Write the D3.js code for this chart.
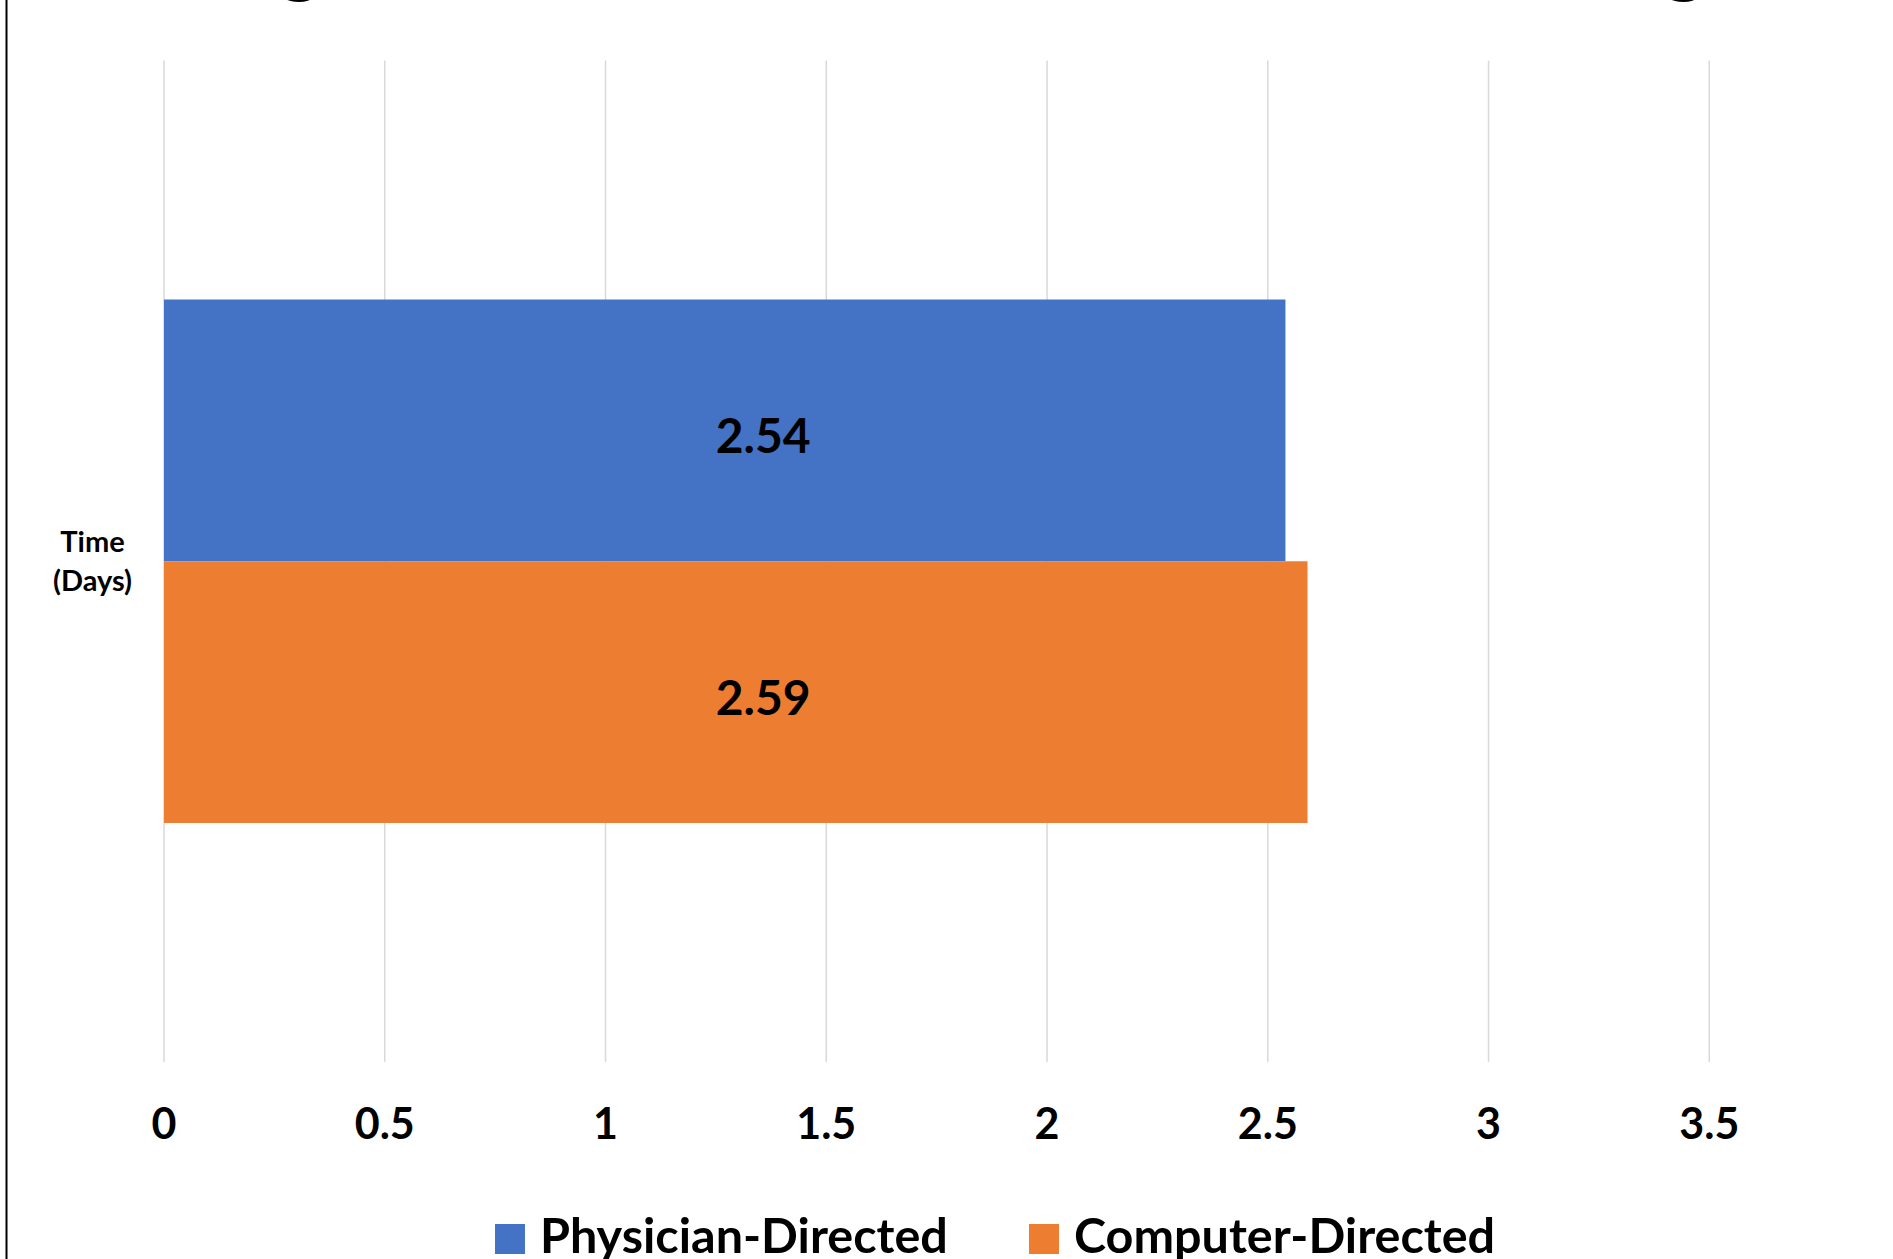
<!DOCTYPE html>
<html>
<head>
<meta charset="utf-8">
<script src="https://cdn.jsdelivr.net/npm/d3@7"></script>
<style>
  html, body { margin: 0; padding: 0; background: #ffffff; }
  svg { display: block; }
  text { font-family: Lato, "Open Sans", "Liberation Sans", sans-serif; font-weight: 700; fill: #000; }
</style>
</head>
<body>
<svg id="chart" width="1893" height="1259"></svg>
<script>
// Chart data
const titleText = "Length of Ventilator Weaning";
const categories = ["Time (Days)"];
const categoryLines = [["Time", "(Days)"]];
const seriesNames = ["Physician-Directed", "Computer-Directed"];
const seriesColors = ["#4472C4", "#ED7D31"];
const seriesValues = [[2.54], [2.59]];   // one value per category, per series
const tickValues = [0, 0.5, 1, 1.5, 2, 2.5, 3, 3.5];
const tickLabels = ["0", "0.5", "1", "1.5", "2", "2.5", "3", "3.5"];

const svg = d3.select("#chart");
const W = 1893, H = 1259;
const plot = { left: 164, right: 1709.3, top: 60.5, bottom: 1062 };

// Frame line along the left edge
svg.append("line")
  .attr("x1", 6.5).attr("x2", 6.5).attr("y1", 0).attr("y2", H)
  .attr("stroke", "#000").attr("stroke-width", 2);

// Title, set mostly above the visible area
const title = svg.append("text")
  .attr("font-size", 84)
  .attr("x", 0)
  .attr("y", -14)
  .text(titleText);
{
  const node = title.node();
  const i1 = titleText.indexOf("g"), i2 = titleText.lastIndexOf("g");
  const e1 = node.getExtentOfChar(i1), e2 = node.getExtentOfChar(i2);
  const c1 = e1.x + e1.width / 2, c2 = e2.x + e2.width / 2;
  const ls = (1386 - (c2 - c1)) / (i2 - i1);
  title.attr("letter-spacing", ls).attr("x", 300 - (c1 + ls * i1));
}

// Scales
const x = d3.scaleLinear().domain([0, 3.5]).range([plot.left, plot.right]);
const y0 = d3.scaleBand().domain(categories).range([plot.top, plot.bottom])
  .paddingInner(0).paddingOuter(0.4566);
const y1 = d3.scaleBand().domain(seriesNames).range([0, y0.bandwidth()]).padding(0);

// Vertical gridlines
svg.append("g").selectAll("line")
  .data(tickValues)
  .join("line")
  .attr("x1", d => x(d)).attr("x2", d => x(d))
  .attr("y1", plot.top).attr("y2", plot.bottom)
  .attr("stroke", "#D9D9D9").attr("stroke-width", 1.5);

// Bars
const barData = [];
categories.forEach((c, ci) => {
  seriesNames.forEach((s, si) => {
    barData.push({ cat: c, series: s, value: seriesValues[si][ci], color: seriesColors[si] });
  });
});

const bars = svg.append("g");
bars.selectAll("rect")
  .data(barData)
  .join("rect")
  .attr("x", x(0))
  .attr("y", d => y0(d.cat) + y1(d.series))
  .attr("width", d => x(d.value) - x(0))
  .attr("height", y1.bandwidth())
  .attr("fill", d => d.color);

// Value labels inside the bars
bars.selectAll("text")
  .data(barData)
  .join("text")
  .attr("x", x(1.357))
  .attr("y", d => y0(d.cat) + y1(d.series) + y1.bandwidth() / 2 + 4)
  .attr("text-anchor", "middle")
  .attr("dominant-baseline", "central")
  .attr("font-size", 48)
  .text(d => d.value.toFixed(2));

// Bottom axis tick labels
svg.append("g").selectAll("text")
  .data(tickValues)
  .join("text")
  .attr("x", d => x(d))
  .attr("y", 1139)
  .attr("text-anchor", "middle")
  .attr("font-size", 43)
  .text((d, i) => tickLabels[i]);

// Category label on the left
const catG = svg.append("g");
categories.forEach((c, ci) => {
  const cy = y0(c) + y0.bandwidth() / 2;
  const t = catG.append("text")
    .attr("text-anchor", "middle")
    .attr("font-size", 29);
  categoryLines[ci].forEach((line, li) => {
    t.append("tspan").attr("x", 92.5).attr("y", cy - 9 + li * 38.5).text(line);
  });
});

// Legend
const legendX = [495, 1029];
const legend = svg.append("g");
seriesNames.forEach((s, i) => {
  legend.append("rect")
    .attr("x", legendX[i]).attr("y", 1224)
    .attr("width", 30).attr("height", 30)
    .attr("fill", seriesColors[i]);
  legend.append("text")
    .attr("x", legendX[i] + 45).attr("y", 1253)
    .attr("font-size", 48.5)
    .text(s);
});
</script>
</body>
</html>
